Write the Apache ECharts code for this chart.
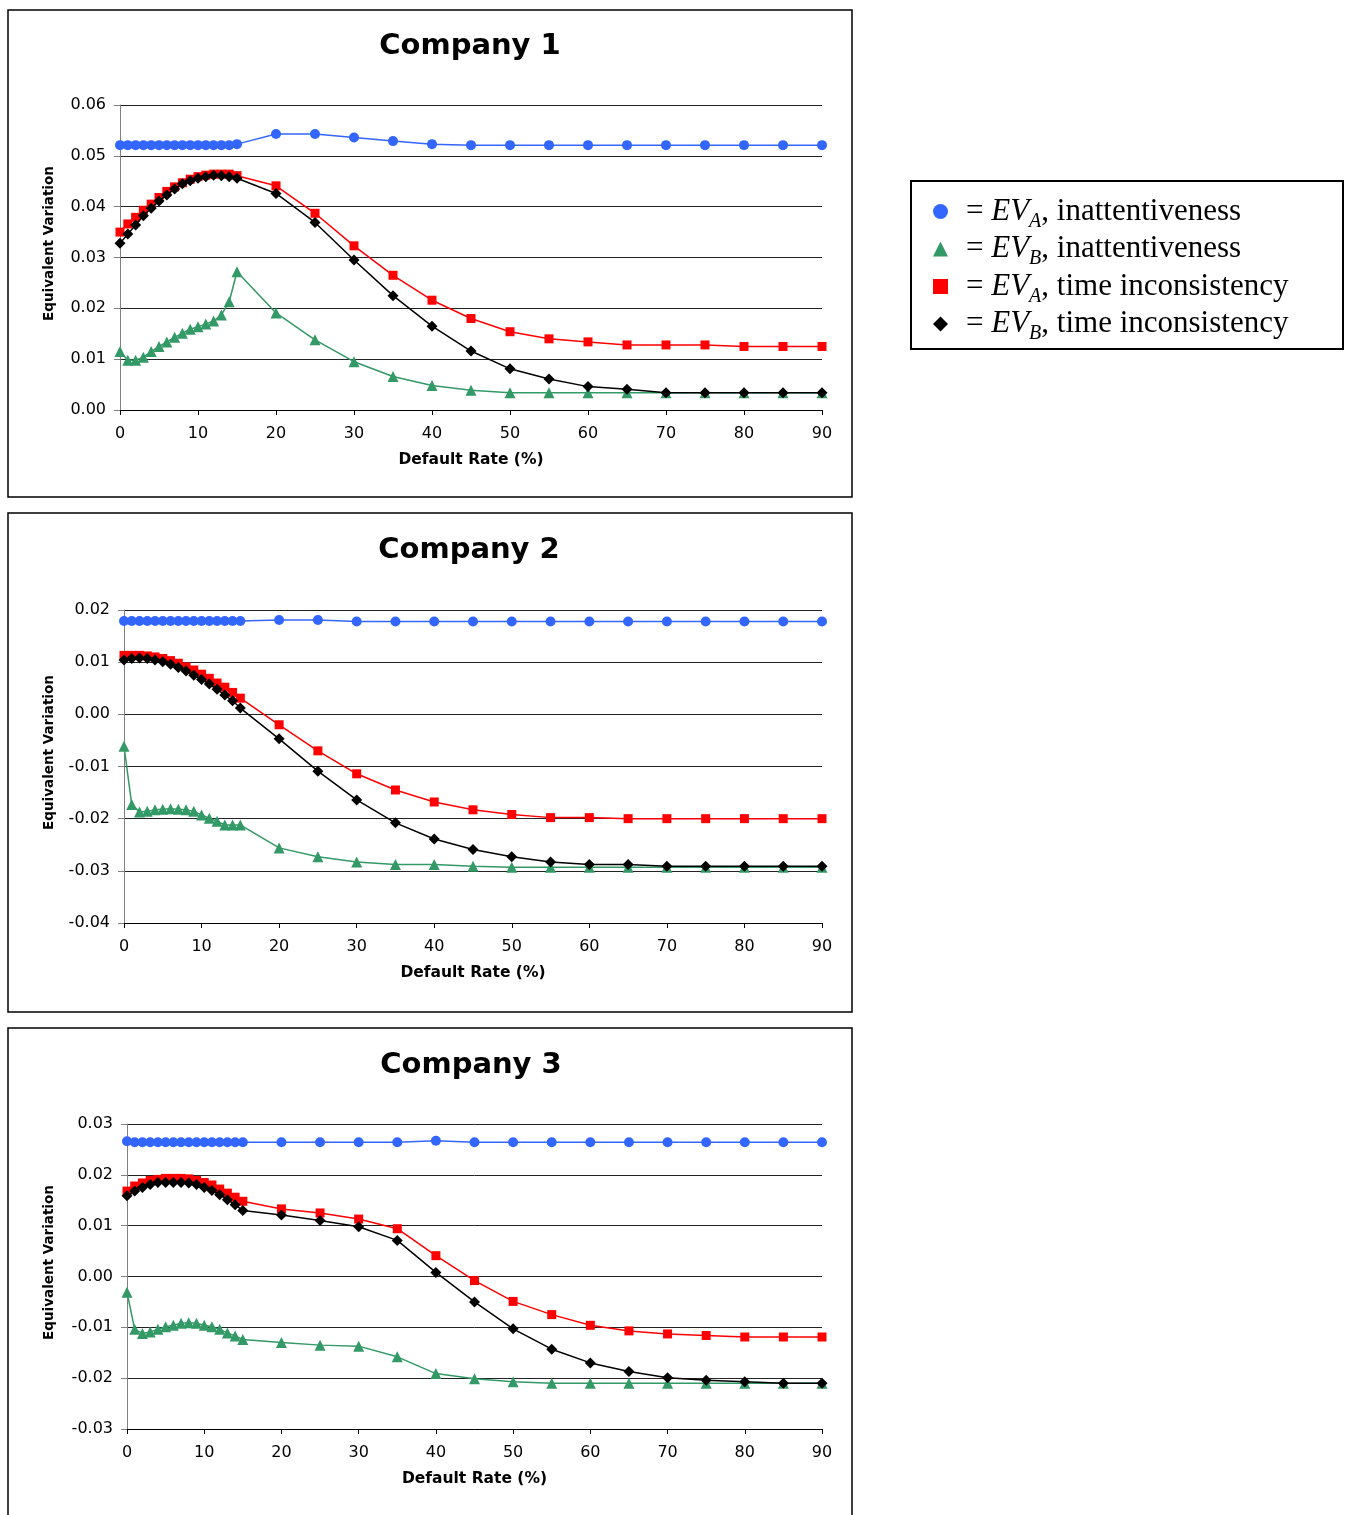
<!DOCTYPE html>
<html>
<head>
<meta charset="utf-8">
<script src="https://cdn.jsdelivr.net/npm/echarts@6/dist/echarts.min.js"></script>
<style>
  html, body { margin: 0; padding: 0; background: #fff; }
  #chart { width: 1350px; height: 1515px; }
</style>
</head>
<body>
<div id="chart"></div>
<script>
// Default rate (%) at which every series is evaluated
const defaultRate = [0, 1, 2, 3, 4, 5, 6, 7, 8, 9, 10, 11, 12, 13, 14, 15,
  20, 25, 30, 35, 40, 45, 50, 55, 60, 65, 70, 75, 80, 85, 90];

// Series names (shown in the legend through rich text)
const seriesNames = ['EVA inattentiveness', 'EVB inattentiveness', 'EVA time inconsistency', 'EVB time inconsistency'];

// Company 1
const c1EvaInatt = [0.0521, 0.0521, 0.0521, 0.0521, 0.0521, 0.0521, 0.0521, 0.0521, 0.0521, 0.0521, 0.0521, 0.0521, 0.0521, 0.0521, 0.0521, 0.0523,
  0.0543, 0.0543, 0.0536, 0.0529, 0.0523, 0.0521, 0.0521, 0.0521, 0.0521, 0.0521, 0.0521, 0.0521, 0.0521, 0.0521, 0.0521];
const c1EvbInatt = [0.0115, 0.0098, 0.0098, 0.0104, 0.0115, 0.0125, 0.0134, 0.0143, 0.0151, 0.0159, 0.0164, 0.0169, 0.0175, 0.0187, 0.0213, 0.0272,
  0.0191, 0.0138, 0.0095, 0.0066, 0.0048, 0.0039, 0.0034, 0.0034, 0.0034, 0.0034, 0.0034, 0.0034, 0.0034, 0.0034, 0.0034];
const c1EvaTime = [0.0350, 0.0366, 0.0379, 0.0393, 0.0405, 0.0418, 0.0430, 0.0439, 0.0447, 0.0454, 0.0459, 0.0462, 0.0464, 0.0464, 0.0464, 0.0461,
  0.0441, 0.0387, 0.0323, 0.0265, 0.0216, 0.0180, 0.0154, 0.0140, 0.0134, 0.0128, 0.0128, 0.0128, 0.0125, 0.0125, 0.0125];
const c1EvbTime = [0.0328, 0.0346, 0.0364, 0.0382, 0.0397, 0.0411, 0.0423, 0.0435, 0.0445, 0.0451, 0.0456, 0.0459, 0.0462, 0.0461, 0.0459, 0.0456,
  0.0426, 0.0369, 0.0295, 0.0225, 0.0165, 0.0116, 0.0081, 0.0061, 0.0046, 0.0041, 0.0034, 0.0034, 0.0034, 0.0034, 0.0034];

// Company 2
const c2EvaInatt = [0.0179, 0.0179, 0.0179, 0.0179, 0.0179, 0.0179, 0.0179, 0.0179, 0.0179, 0.0179, 0.0179, 0.0179, 0.0179, 0.0179, 0.0179, 0.0179,
  0.0181, 0.0181, 0.0178, 0.0178, 0.0178, 0.0178, 0.0178, 0.0178, 0.0178, 0.0178, 0.0178, 0.0178, 0.0178, 0.0178, 0.0178];
const c2EvbInatt = [-0.0061, -0.0173, -0.0187, -0.0186, -0.0183, -0.0182, -0.0181, -0.0182, -0.0183, -0.0186, -0.0193, -0.0199, -0.0205, -0.0212, -0.0212, -0.0212,
  -0.0256, -0.0273, -0.0283, -0.0288, -0.0288, -0.0291, -0.0293, -0.0293, -0.0293, -0.0293, -0.0293, -0.0293, -0.0293, -0.0293, -0.0293];
const c2EvaTime = [0.0113, 0.0113, 0.0113, 0.0112, 0.0110, 0.0107, 0.0103, 0.0098, 0.0091, 0.0085, 0.0077, 0.0069, 0.0060, 0.0052, 0.0042, 0.0031,
  -0.0020, -0.0070, -0.0114, -0.0145, -0.0168, -0.0183, -0.0192, -0.0198, -0.0198, -0.0200, -0.0200, -0.0200, -0.0200, -0.0200, -0.0200];
const c2EvbTime = [0.0104, 0.0107, 0.0108, 0.0107, 0.0104, 0.0101, 0.0096, 0.0090, 0.0083, 0.0075, 0.0067, 0.0058, 0.0048, 0.0037, 0.0026, 0.0012,
  -0.0047, -0.0109, -0.0164, -0.0208, -0.0239, -0.0259, -0.0273, -0.0283, -0.0288, -0.0288, -0.0291, -0.0291, -0.0291, -0.0291, -0.0291];

// Company 3
const c3EvaInatt = [0.0266, 0.0264, 0.0264, 0.0264, 0.0264, 0.0264, 0.0264, 0.0264, 0.0264, 0.0264, 0.0264, 0.0264, 0.0264, 0.0264, 0.0264, 0.0264,
  0.0264, 0.0264, 0.0264, 0.0264, 0.0267, 0.0264, 0.0264, 0.0264, 0.0264, 0.0264, 0.0264, 0.0264, 0.0264, 0.0264, 0.0264];
const c3EvbInatt = [-0.0031, -0.0104, -0.0112, -0.0109, -0.0104, -0.0099, -0.0096, -0.0092, -0.0091, -0.0092, -0.0096, -0.0099, -0.0104, -0.0111, -0.0117, -0.0124,
  -0.0130, -0.0135, -0.0137, -0.0158, -0.0191, -0.0201, -0.0207, -0.0210, -0.0210, -0.0210, -0.0210, -0.0210, -0.0210, -0.0210, -0.0210];
const c3EvaTime = [0.0168, 0.0178, 0.0184, 0.0189, 0.0191, 0.0193, 0.0193, 0.0193, 0.0192, 0.0189, 0.0185, 0.0180, 0.0172, 0.0164, 0.0156, 0.0148,
  0.0133, 0.0125, 0.0113, 0.0094, 0.0041, -0.0008, -0.0049, -0.0075, -0.0096, -0.0107, -0.0113, -0.0116, -0.0119, -0.0119, -0.0119];
const c3EvbTime = [0.0159, 0.0168, 0.0175, 0.0181, 0.0185, 0.0185, 0.0185, 0.0185, 0.0184, 0.0181, 0.0175, 0.0169, 0.0161, 0.0151, 0.0141, 0.0130,
  0.0121, 0.0110, 0.0098, 0.0071, 0.0008, -0.0050, -0.0103, -0.0143, -0.0170, -0.0187, -0.0199, -0.0204, -0.0207, -0.0210, -0.0210];

// Panel titles and y-axis ranges
const panelTitles = ['Company 1', 'Company 2', 'Company 3'];
const yMin = [0, -0.04, -0.03];
const yMax = [0.06, 0.02, 0.03];

const panels = [
  [c1EvaInatt, c1EvbInatt, c1EvaTime, c1EvbTime],
  [c2EvaInatt, c2EvbInatt, c2EvaTime, c2EvbTime],
  [c3EvaInatt, c3EvbInatt, c3EvaTime, c3EvbTime]
];

// Styling per series kind
const seriesStyle = [
  { color: '#3366FF', symbol: 'circle', size: 10 },
  { color: '#339966', symbol: 'triangle', size: 11 },
  { color: '#FF0000', symbol: 'rect', size: 9 },
  { color: '#000000', symbol: 'diamond', size: 11 }
];

const gridBoxes = [
  { left: 120, top: 105, width: 702, height: 305 },
  { left: 124, top: 610, width: 698, height: 313 },
  { left: 127, top: 1124, width: 695, height: 305 }
];
const titlePos = [{ x: 465, y: 27 }, { x: 464, y: 531 }, { x: 466, y: 1046 }];
const panelFrames = [
  { y: 10, h: 487 },
  { y: 513, h: 499 },
  { y: 1028, h: 500 }
];

const sansFont = 'DejaVu Sans';
const serifFont = 'Liberation Serif';

const fmtY = v => (Math.abs(v) < 1e-9 ? '0.00' : v.toFixed(2));

const grid = [], xAxis = [], yAxis = [], series = [], title = [], graphic = [];

panels.forEach((panelSeries, p) => {
  grid.push(Object.assign({ containLabel: false }, gridBoxes[p]));
  title.push({
    text: panelTitles[p],
    left: titlePos[p].x,
    top: titlePos[p].y,
    textAlign: 'center',
    textStyle: { fontFamily: sansFont, fontWeight: 'bold', fontSize: 29, color: '#000' }
  });
  xAxis.push({
    type: 'value', gridIndex: p, min: 0, max: 90, interval: 10,
    name: 'Default Rate (%)', nameLocation: 'middle', nameGap: 42,
    nameTextStyle: { fontFamily: sansFont, fontWeight: 'bold', fontSize: 15.5, color: '#000' },
    axisLine: { onZero: false, lineStyle: { color: '#000', width: 1 } },
    axisTick: { show: true, length: 5, lineStyle: { color: '#000' } },
    axisLabel: { margin: 16, fontFamily: sansFont, fontSize: 16, color: '#000' },
    splitLine: { show: false }
  });
  yAxis.push({
    type: 'value', gridIndex: p, min: yMin[p], max: yMax[p], interval: 0.01,
    name: 'Equivalent Variation', nameLocation: 'middle', nameGap: [64, 68, 71][p],
    nameTextStyle: { fontFamily: sansFont, fontWeight: 'bold', fontSize: 13.5, color: '#000', padding: [0, 0, 0, 28] },
    axisLine: { show: true, onZero: false, lineStyle: { color: '#808080', width: 1 } },
    axisTick: { show: true, length: 6, lineStyle: { color: '#808080' } },
    axisLabel: { margin: 14, fontFamily: sansFont, fontSize: 16, color: '#000', formatter: fmtY },
    splitLine: { show: true, lineStyle: { color: '#222', width: 1 } }
  });
  panelSeries.forEach((values, k) => {
    const st = seriesStyle[k];
    series.push({
      name: seriesNames[k],
      type: 'line',
      xAxisIndex: p, yAxisIndex: p,
      data: defaultRate.map((x, i) => [x, values[i]]),
      symbol: st.symbol,
      symbolSize: st.size,
      showAllSymbol: true,
      animation: false,
      lineStyle: { color: st.color, width: 1.5 },
      itemStyle: { color: st.color },
      emphasis: { disabled: true },
      z: 2 + k
    });
  });
  graphic.push({
    type: 'rect', silent: true, z: -10,
    shape: { x: 8, y: panelFrames[p].y, width: 844, height: panelFrames[p].h },
    style: { fill: '#fff', stroke: '#000', lineWidth: 1.5 }
  });
});

// Frame around the legend
graphic.push({
  type: 'rect', silent: true, z: -10,
  shape: { x: 911, y: 181, width: 432, height: 168 },
  style: { fill: '#fff', stroke: '#000', lineWidth: 2 }
});

const legendRich = {
  eq: { fontFamily: serifFont, fontSize: 31, lineHeight: 30, color: '#000', padding: [0, 0, 0, 13] },
  ev: { fontFamily: serifFont, fontStyle: 'italic', fontSize: 31, lineHeight: 30, color: '#000' },
  sub: { fontFamily: serifFont, fontStyle: 'italic', fontSize: 20, lineHeight: 10, height: 10, verticalAlign: 'bottom', color: '#000' },
  txt: { fontFamily: serifFont, fontSize: 31, lineHeight: 30, color: '#000' }
};
const legendText = {
  'EVA inattentiveness': '{eq|= }{ev|EV}{sub|A}{txt|, inattentiveness}',
  'EVB inattentiveness': '{eq|= }{ev|EV}{sub|B}{txt|, inattentiveness}',
  'EVA time inconsistency': '{eq|= }{ev|EV}{sub|A}{txt|, time inconsistency}',
  'EVB time inconsistency': '{eq|= }{ev|EV}{sub|B}{txt|, time inconsistency}'
};

const chart = echarts.init(document.getElementById('chart'), null, { renderer: 'canvas' });
chart.setOption({
  backgroundColor: '#fff',
  animation: false,
  title: title,
  graphic: graphic,
  legend: {
    orient: 'vertical',
    left: 933, top: 196,
    padding: 0,
    itemWidth: 15, itemHeight: 15,
    itemGap: 2,
    selectedMode: false,
    data: seriesNames.map((n, k) => ({ name: n, icon: seriesStyle[k].symbol })),
    formatter: n => legendText[n],
    textStyle: { rich: legendRich, color: '#000' }
  },
  grid: grid,
  xAxis: xAxis,
  yAxis: yAxis,
  series: series
});
</script>
</body>
</html>
